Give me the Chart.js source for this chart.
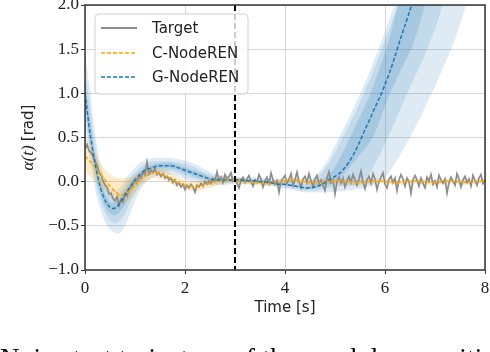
<!DOCTYPE html>
<html>
<head>
<meta charset="utf-8">
<script src="https://cdn.jsdelivr.net/npm/chart.js@4.4.1/dist/chart.umd.min.js"></script>
<style>
  html, body { margin: 0; padding: 0; background: #fff; overflow: hidden; }
  #wrap { position: relative; width: 490px; height: 352px; overflow: hidden; }
  #caption {
    position: absolute; left: 0; top: 345px; white-space: nowrap;
    font: 27px 'Liberation Serif', serif; line-height: 27px; color: #000;
    letter-spacing: 0.3px;
  }
</style>
</head>
<body>
<div id="wrap">
  <canvas id="chart" width="490" height="352"></canvas>
  <div id="caption">Noisy test trajectory of the pendulum position</div>
</div>
<script>
// time grid of the model outputs (s), and of the noisy target
const modelStep = 0.1;
const targetStep = 0.04;
const splitTime = 3; // end of the training window

// G-NodeREN mean and its three spread bands
const gMean = [1.00,0.55,0.21,-0.05,-0.21,-0.29,-0.30,-0.24,-0.15,-0.06,
  0.02,0.08,0.13,0.15,0.17,0.18,0.18,0.18,0.17,0.15,
  0.13,0.11,0.09,0.07,0.05,0.03,0.02,0.02,0.02,0.02,
  0.02,0.02,0.01,0.01,0.01,0.00,0.00,-0.01,-0.02,-0.03,
  -0.03,-0.04,-0.05,-0.06,-0.07,-0.07,-0.06,-0.04,-0.01,0.03,
  0.06,0.10,0.16,0.24,0.34,0.46,0.59,0.71,0.84,0.96,
  1.10,1.25,1.42,1.60,1.77,1.94,2.12,2.30,2.48,2.66,
  2.85,3.05,3.25,3.45,3.65,3.85,4.05,4.25,4.45,4.65,4.85];
const gLightHi = [1.45,1.05,0.55,0.22,0.02,-0.08,-0.10,-0.06,0.02,0.10,
  0.16,0.21,0.24,0.26,0.27,0.27,0.27,0.27,0.26,0.25,
  0.24,0.22,0.20,0.17,0.14,0.11,0.09,0.08,0.07,0.06,
  0.06,0.05,0.05,0.05,0.05,0.05,0.04,0.04,0.03,0.03,
  0.03,0.02,0.02,0.01,0.00,0.02,0.06,0.12,0.20,0.30,
  0.41,0.52,0.63,0.75,0.87,0.99,1.12,1.26,1.40,1.55,
  1.70,1.86,2.02,2.20,2.40,2.60,2.80,3.00,3.20,3.40,
  3.60,3.80,4.00,4.20,4.40,4.60,4.80,5.00,5.20,5.40,5.60];
const gLightLo = [0.62,0.25,-0.08,-0.30,-0.45,-0.54,-0.58,-0.58,-0.50,-0.36,
  -0.22,-0.10,-0.02,0.03,0.06,0.07,0.08,0.08,0.07,0.05,
  0.03,0.01,-0.01,-0.02,-0.03,-0.04,-0.04,-0.04,-0.04,-0.03,
  -0.03,-0.03,-0.03,-0.03,-0.03,-0.03,-0.04,-0.05,-0.06,-0.07,
  -0.08,-0.09,-0.10,-0.11,-0.12,-0.12,-0.12,-0.12,-0.12,-0.12,
  -0.11,-0.11,-0.10,-0.10,-0.09,-0.08,-0.07,-0.05,-0.03,0.01,
  0.05,0.12,0.21,0.30,0.40,0.50,0.61,0.72,0.84,0.96,
  1.08,1.21,1.34,1.47,1.61,1.78,1.96,2.14,2.32,2.50,2.70];
const gMidHi = [1.27,0.85,0.41,0.11,-0.07,-0.16,-0.18,-0.13,-0.05,0.04,
  0.10,0.16,0.20,0.22,0.23,0.23,0.23,0.23,0.22,0.21,
  0.20,0.18,0.16,0.13,0.10,0.08,0.06,0.06,0.05,0.04,
  0.04,0.04,0.03,0.03,0.03,0.03,0.02,0.02,0.01,0.01,
  0.00,0.00,-0.01,-0.02,-0.03,0.00,0.03,0.08,0.15,0.23,
  0.33,0.44,0.55,0.66,0.78,0.90,1.03,1.16,1.30,1.45,
  1.60,1.75,1.91,2.08,2.26,2.44,2.62,2.80,3.00,3.20,
  3.40,3.60,3.80,4.00,4.20,4.40,4.60,4.80,5.00,5.20,5.40];
const gMidLo = [0.77,0.37,0.04,-0.20,-0.35,-0.44,-0.47,-0.44,-0.36,-0.24,
  -0.12,-0.03,0.04,0.08,0.10,0.11,0.12,0.12,0.11,0.09,
  0.07,0.05,0.03,0.02,0.00,-0.01,-0.02,-0.02,-0.02,-0.01,
  -0.01,-0.01,-0.01,-0.01,-0.01,-0.02,-0.02,-0.03,-0.04,-0.05,
  -0.06,-0.07,-0.08,-0.09,-0.10,-0.10,-0.10,-0.09,-0.08,-0.07,
  -0.06,-0.05,-0.05,-0.05,-0.05,-0.03,0.03,0.10,0.20,0.31,
  0.43,0.55,0.68,0.81,0.94,1.07,1.19,1.31,1.44,1.58,
  1.73,1.90,2.07,2.25,2.43,2.61,2.80,3.00,3.20,3.40,3.60];
const gDarkHi = [1.14,0.70,0.31,0.03,-0.14,-0.23,-0.24,-0.19,-0.10,-0.01,
  0.06,0.12,0.16,0.18,0.20,0.21,0.21,0.21,0.20,0.18,
  0.16,0.14,0.12,0.10,0.08,0.05,0.04,0.04,0.03,0.03,
  0.03,0.03,0.02,0.02,0.02,0.01,0.01,0.00,-0.01,-0.02,
  -0.02,-0.03,-0.04,-0.05,-0.06,-0.05,-0.03,0.00,0.05,0.10,
  0.17,0.27,0.38,0.50,0.62,0.74,0.86,0.98,1.14,1.30,
  1.46,1.65,1.87,2.08,2.30,2.50,2.70,2.90,3.10,3.30,
  3.50,3.70,3.90,4.10,4.30,4.50,4.70,4.90,5.10,5.30,5.50];
const gDarkLo = [0.89,0.46,0.12,-0.12,-0.28,-0.36,-0.38,-0.34,-0.26,-0.15,
  -0.05,0.03,0.09,0.11,0.14,0.15,0.15,0.15,0.14,0.12,
  0.10,0.08,0.06,0.04,0.03,0.01,0.00,0.00,0.01,0.01,
  0.01,0.01,0.00,0.00,0.00,-0.01,-0.01,-0.02,-0.03,-0.04,
  -0.04,-0.05,-0.06,-0.07,-0.08,-0.08,-0.07,-0.06,-0.05,-0.03,
  0.00,0.04,0.10,0.17,0.24,0.31,0.38,0.45,0.55,0.70,
  0.85,1.00,1.12,1.24,1.36,1.47,1.62,1.80,2.00,2.20,
  2.40,2.60,2.80,3.00,3.20,3.40,3.60,3.80,4.00,4.20,4.40];

// C-NodeREN mean and spread
const cMean = [0.29,0.23,0.16,0.09,0.02,-0.05,-0.11,-0.15,-0.14,-0.10,
  -0.04,0.02,0.06,0.09,0.10,0.09,0.07,0.04,0.01,-0.02,
  -0.04,-0.05,-0.06,-0.05,-0.03,-0.02,0.00,0.01,0.02,0.02,
  0.02,0.01,0.00,0.00,-0.01,-0.01,-0.02,-0.02,-0.01,0.00,
  0.01,0.02,0.02,0.01,0.00,-0.01,-0.01,-0.01,0.00,0.00,
  0.01,0.01,0.00,0.00,-0.01,-0.01,0.00,0.00,0.01,0.01,
  0.00,0.00,-0.01,-0.01,0.00,0.00,0.01,0.00,0.00,-0.01,
  -0.01,0.00,0.00,0.01,0.00,0.00,-0.01,0.00,0.00,0.01,0.00];
const cHi = [0.50,0.42,0.32,0.22,0.14,0.08,0.05,0.04,0.04,0.05,
  0.07,0.10,0.13,0.15,0.16,0.15,0.13,0.10,0.07,0.04,
  0.02,0.01,0.00,0.01,0.03,0.04,0.05,0.06,0.06,0.06,
  0.05,0.04,0.03,0.03,0.02,0.02,0.01,0.01,0.02,0.03,
  0.04,0.05,0.05,0.04,0.03,0.02,0.02,0.02,0.03,0.03,
  0.04,0.04,0.03,0.03,0.02,0.02,0.03,0.03,0.04,0.04,
  0.03,0.03,0.02,0.02,0.03,0.03,0.04,0.03,0.03,0.02,
  0.02,0.03,0.03,0.04,0.03,0.03,0.02,0.03,0.03,0.04,0.03];
const cLo = [0.12,0.06,0.00,-0.05,-0.10,-0.16,-0.22,-0.25,-0.24,-0.20,
  -0.13,-0.06,-0.01,0.03,0.04,0.03,0.01,-0.02,-0.05,-0.07,
  -0.09,-0.10,-0.11,-0.10,-0.08,-0.07,-0.05,-0.04,-0.02,-0.02,
  -0.01,-0.02,-0.03,-0.03,-0.04,-0.04,-0.05,-0.05,-0.04,-0.03,
  -0.02,-0.01,-0.01,-0.02,-0.03,-0.04,-0.04,-0.04,-0.03,-0.03,
  -0.02,-0.02,-0.03,-0.03,-0.04,-0.04,-0.03,-0.03,-0.02,-0.02,
  -0.03,-0.03,-0.04,-0.04,-0.03,-0.03,-0.02,-0.03,-0.03,-0.04,
  -0.04,-0.03,-0.03,-0.02,-0.03,-0.03,-0.04,-0.03,-0.03,-0.02,-0.03];

// noisy target trajectory
const target = [0.37,0.42,0.35,0.33,0.29,0.23,0.19,0.11,0.08,0.01,
  -0.04,-0.06,-0.14,-0.13,-0.19,-0.22,-0.17,-0.27,-0.20,-0.23,
  -0.13,-0.16,-0.08,-0.06,-0.03,0.02,-0.02,0.06,0.04,0.11,
  0.08,0.22,0.09,0.13,0.10,0.15,0.08,0.10,0.06,0.09,
  0.04,0.06,0.02,0.04,-0.01,0.02,-0.04,-0.01,-0.06,-0.03,
  -0.09,-0.04,-0.07,-0.03,-0.06,-0.12,-0.04,-0.06,-0.02,-0.05,
  0.00,-0.03,0.01,-0.02,0.04,0.01,0.11,0.02,0.05,-0.01,
  0.08,0.03,0.06,0.10,0.01,0.04,-0.02,-0.07,0.02,0.05,
  -0.01,0.03,0.07,0.00,-0.05,0.02,-0.01,0.08,0.03,-0.06,
  0.01,0.05,-0.02,0.10,0.02,-0.03,0.01,-0.12,0.00,0.04,
  0.07,-0.02,0.03,0.09,-0.04,0.02,0.11,0.00,-0.07,0.03,
  0.06,-0.01,0.09,0.01,-0.05,0.03,0.07,-0.02,0.02,-0.04,
  -0.10,0.04,0.11,-0.01,0.02,-0.14,0.00,0.05,-0.02,0.04,
  -0.06,0.01,0.06,-0.01,0.08,0.02,-0.04,0.03,0.12,-0.01,
  -0.08,0.02,0.06,-0.02,0.09,0.03,-0.09,0.00,0.05,0.10,
  -0.03,-0.07,0.03,0.06,-0.01,0.04,-0.10,0.02,0.08,0.03,
  -0.05,0.04,0.00,-0.13,0.02,0.07,0.02,-0.05,0.04,-0.02,
  -0.07,0.05,0.01,0.08,-0.03,0.01,-0.06,0.07,0.02,-0.02,
  0.03,-0.13,-0.01,0.05,0.01,-0.04,0.09,0.03,-0.06,0.02,
  0.06,-0.01,0.03,-0.05,0.07,0.01,-0.04,0.04,0.08,-0.02,0.02];

const xTicks = [0, 2, 4, 6, 8];
const yTicks = [-1.0, -0.5, 0.0, 0.5, 1.0, 1.5, 2.0];

const legendItems = [
  { label: 'Target', color: '#8c8c8c', dash: [], width: 2 },
  { label: 'C-NodeREN', color: '#ffa500', dash: [4, 2], width: 1.5 },
  { label: 'G-NodeREN', color: '#1f77b4', dash: [4, 2], width: 1.5 }
];

function toPoints(values, step) {
  return values.map((v, i) => ({ x: Math.round(i * step * 100) / 100, y: v }));
}

const datasets = [];

// a band = an invisible upper edge plus a lower edge filled up to it
function addBand(hi, lo, color, order) {
  const hiIndex = datasets.length;
  datasets.push({
    data: toPoints(hi, modelStep), borderWidth: 0, pointRadius: 0,
    tension: 0.3, fill: false, order: order
  });
  datasets.push({
    data: toPoints(lo, modelStep), borderWidth: 0, pointRadius: 0,
    tension: 0.3, fill: { target: hiIndex }, backgroundColor: color, order: order
  });
}

addBand(gLightHi, gLightLo, 'rgba(31,119,180,0.15)', 30);
addBand(gMidHi, gMidLo, 'rgba(31,119,180,0.15)', 29);
addBand(gDarkHi, gDarkLo, 'rgba(31,119,180,0.18)', 28);
addBand(cHi, cLo, 'rgba(255,165,0,0.22)', 27);

datasets.push({
  label: 'Target', data: toPoints(target, targetStep),
  borderColor: '#8c8c8c', borderWidth: 1.7, pointRadius: 0, tension: 0, order: 3
});
datasets.push({
  label: 'C-NodeREN', data: toPoints(cMean, modelStep),
  borderColor: '#ffa500', borderWidth: 1.5, borderDash: [4, 2],
  pointRadius: 0, tension: 0.3, order: 2
});
datasets.push({
  label: 'G-NodeREN', data: toPoints(gMean, modelStep),
  borderColor: '#1f77b4', borderWidth: 1.5, borderDash: [4, 2],
  pointRadius: 0, tension: 0.3, order: 1
});

// frame, split line, axis titles and legend
const decorPlugin = {
  id: 'decor',
  afterDatasetsDraw(chart) {
    const { ctx, chartArea: a, scales } = chart;
    ctx.save();
    // vertical split line
    const xs = scales.x.getPixelForValue(splitTime);
    ctx.strokeStyle = '#000';
    ctx.lineWidth = 2;
    ctx.setLineDash([6, 3]);
    ctx.beginPath();
    ctx.moveTo(xs, a.top);
    ctx.lineTo(xs, a.bottom);
    ctx.stroke();
    ctx.setLineDash([]);

    // frame
    ctx.strokeStyle = '#333';
    ctx.lineWidth = 1.5;
    ctx.strokeRect(a.left, a.top, a.right - a.left, a.bottom - a.top);

    // legend
    const lx = 95, ly = 14, lw = 153, lh = 80, r = 4;
    ctx.fillStyle = 'rgba(255,255,255,0.8)';
    ctx.strokeStyle = '#d0d0d0';
    ctx.lineWidth = 1;
    ctx.beginPath();
    ctx.roundRect(lx, ly, lw, lh, r);
    ctx.fill();
    ctx.stroke();
    const rows = [28, 53, 77];
    ctx.font = "15px 'DejaVu Sans'";
    ctx.textBaseline = 'middle';
    legendItems.forEach((it, i) => {
      ctx.strokeStyle = it.color;
      ctx.lineWidth = it.width;
      ctx.setLineDash(it.dash);
      ctx.beginPath();
      ctx.moveTo(101, rows[i]);
      ctx.lineTo(137, rows[i]);
      ctx.stroke();
      ctx.setLineDash([]);
      ctx.fillStyle = '#222';
      ctx.fillText(it.label, 152, rows[i] + 1);
    });

    // x title
    ctx.fillStyle = '#222';
    ctx.font = "15px 'DejaVu Sans'";
    ctx.textAlign = 'center';
    ctx.textBaseline = 'middle';
    ctx.fillText('Time [s]', (a.left + a.right) / 2, 308);

    // y title: italic serif symbol plus sans unit
    ctx.translate(29, (a.top + a.bottom) / 2);
    ctx.rotate(-Math.PI / 2);
    const symFont = "italic 17px 'Liberation Serif'";
    const unitFont = "15px 'DejaVu Sans'";
    ctx.font = symFont;
    const w1 = ctx.measureText('\u03b1(t) ').width;
    ctx.font = unitFont;
    const w2 = ctx.measureText('[rad]').width;
    const x0 = -(w1 + w2) / 2;
    ctx.textAlign = 'left';
    ctx.font = symFont;
    ctx.fillText('\u03b1(t) ', x0, 0);
    ctx.font = unitFont;
    ctx.fillText('[rad]', x0 + w1, 0);
    ctx.restore();
  }
};

new Chart(document.getElementById('chart'), {
  type: 'line',
  data: { datasets: datasets },
  plugins: [decorPlugin],
  options: {
    responsive: false,
    animation: false,
    devicePixelRatio: 1,
    layout: { padding: { top: 5, right: 5, left: 0, bottom: 0 } },
    plugins: { legend: { display: false }, tooltip: { enabled: false } },
    scales: {
      x: {
        type: 'linear', min: 0, max: 8,
        afterFit: s => { s.height = 82; s.paddingLeft = 0; s.paddingRight = 0; },
        afterBuildTicks: s => { s.ticks = xTicks.map(v => ({ value: v })); },
        grid: { color: '#d6d6d6', tickColor: '#333', tickLength: 4 },
        border: { display: false },
        ticks: {
          color: '#222', padding: 4, maxRotation: 0,
          font: { family: 'Liberation Serif', size: 17 },
          callback: v => String(v)
        }
      },
      y: {
        type: 'linear', min: -1, max: 2,
        afterFit: s => { s.width = 85; s.paddingTop = 0; s.paddingBottom = 0; },
        afterBuildTicks: s => { s.ticks = yTicks.map(v => ({ value: v })); },
        grid: { color: '#d6d6d6', tickColor: '#333', tickLength: 4 },
        border: { display: false },
        ticks: {
          color: '#222', padding: 2,
          font: { family: 'Liberation Serif', size: 17 },
          callback: v => (v < 0 ? '\u2212' : '') + Math.abs(v).toFixed(1)
        }
      }
    }
  }
});
</script>
</body>
</html>
